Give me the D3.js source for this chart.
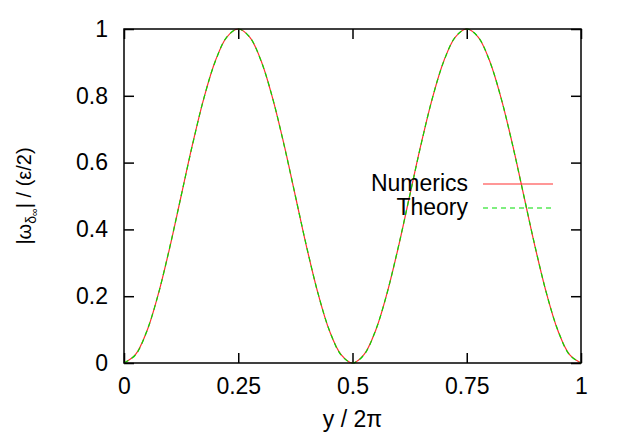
<!DOCTYPE html>
<html>
<head>
<meta charset="utf-8">
<script src="https://cdn.jsdelivr.net/npm/d3@7"></script>
<style>
  body { margin: 0; background: #fff; }
  text { font-family: "Liberation Sans", Arial, sans-serif; }
</style>
</head>
<body>
<div id="chart"></div>
<script>
// Valors llegits del gràfic (y / 2π i |ω| / (ε/2))
const xValues = [0, 0.025, 0.05, 0.075, 0.1, 0.125, 0.15, 0.175, 0.2, 0.225, 0.25,
  0.275, 0.3, 0.325, 0.35, 0.375, 0.4, 0.425, 0.45, 0.475, 0.5,
  0.525, 0.55, 0.575, 0.6, 0.625, 0.65, 0.675, 0.7, 0.725, 0.75,
  0.775, 0.8, 0.825, 0.85, 0.875, 0.9, 0.925, 0.95, 0.975, 1];
const numerics = [0, 0.025, 0.095, 0.206, 0.345, 0.5, 0.655, 0.794, 0.905, 0.976, 1,
  0.976, 0.905, 0.794, 0.655, 0.5, 0.345, 0.206, 0.095, 0.025, 0,
  0.025, 0.095, 0.206, 0.345, 0.5, 0.655, 0.794, 0.905, 0.976, 1,
  0.976, 0.905, 0.794, 0.655, 0.5, 0.345, 0.206, 0.095, 0.025, 0];
const theory = [0, 0.024, 0.096, 0.206, 0.346, 0.5, 0.654, 0.794, 0.904, 0.976, 1,
  0.976, 0.904, 0.794, 0.654, 0.5, 0.346, 0.206, 0.096, 0.024, 0,
  0.024, 0.096, 0.206, 0.346, 0.5, 0.654, 0.794, 0.904, 0.976, 1,
  0.976, 0.904, 0.794, 0.654, 0.5, 0.346, 0.206, 0.096, 0.024, 0];
const xTicks = [0, 0.25, 0.5, 0.75, 1];
const yTicks = [0, 0.2, 0.4, 0.6, 0.8, 1];
const seriesNames = ["Numerics", "Theory"];

const W = 623, H = 436;
const margin = { top: 29, right: 42, bottom: 73, left: 124 };
const width = W - margin.left - margin.right;
const height = H - margin.top - margin.bottom;
const fontSize = 23;

const svg = d3.select("#chart").append("svg")
  .attr("width", W).attr("height", H);
const g = svg.append("g").attr("transform", `translate(${margin.left},${margin.top})`);

const x = d3.scaleLinear().domain([0, 1]).range([0, width]);
const y = d3.scaleLinear().domain([0, 1]).range([height, 0]);

const fmt = d => d3.format("")(d);
const tickLen = 10;

// Eixos (ticks cap a dins, també a dalt i a la dreta)
g.append("g").attr("transform", `translate(0,${height})`)
  .call(d3.axisBottom(x).tickValues(xTicks).tickFormat(fmt).tickSizeInner(-tickLen).tickSizeOuter(0).tickPadding(15))
  .call(a => a.select(".domain").remove());
g.append("g")
  .call(d3.axisTop(x).tickValues(xTicks).tickFormat("").tickSizeInner(-tickLen).tickSizeOuter(0))
  .call(a => a.select(".domain").remove());
g.append("g")
  .call(d3.axisLeft(y).tickValues(yTicks).tickFormat(fmt).tickSizeInner(-tickLen).tickSizeOuter(0).tickPadding(16))
  .call(a => a.select(".domain").remove());
g.append("g").attr("transform", `translate(${width},0)`)
  .call(d3.axisRight(y).tickValues(yTicks).tickFormat("").tickSizeInner(-tickLen).tickSizeOuter(0))
  .call(a => a.select(".domain").remove());

g.selectAll(".tick line").attr("stroke", "#000").attr("stroke-width", 1.5);
g.selectAll(".tick text").attr("font-size", fontSize).attr("fill", "#000")
  .attr("font-family", "Liberation Sans, Arial, sans-serif");

// Corbes
const pts = vals => xValues.map((v, i) => [v, vals[i]]);
const line = d3.line().x(d => x(d[0])).y(d => y(d[1])).curve(d3.curveCatmullRom);

g.append("path").datum(pts(numerics))
  .attr("fill", "none").attr("stroke", "#ff3030").attr("stroke-width", 1.2)
  .attr("d", line);
g.append("path").datum(pts(theory))
  .attr("fill", "none").attr("stroke", "#00dd00").attr("stroke-width", 1.2)
  .attr("stroke-dasharray", "5,4")
  .attr("d", line);

// Marc
g.append("rect").attr("width", width).attr("height", height)
  .attr("fill", "none").attr("stroke", "#000").attr("stroke-width", 1.5);

// Llegenda
const legend = svg.append("g");
const legendColors = ["#ff3030", "#00dd00"];
const legendDash = [null, "5,4"];
seriesNames.forEach((name, i) => {
  const yy = 184 + i * 24;
  legend.append("text").attr("x", 468).attr("y", yy + 7)
    .attr("text-anchor", "end").attr("font-size", fontSize).text(name);
  legend.append("line").attr("x1", 483).attr("x2", 553).attr("y1", yy).attr("y2", yy)
    .attr("stroke", legendColors[i]).attr("stroke-width", 1.2)
    .attr("stroke-dasharray", legendDash[i]);
});

// Etiquetes dels eixos
svg.append("text").attr("x", margin.left + width / 2).attr("y", 427)
  .attr("text-anchor", "middle").attr("font-size", fontSize).text("y / 2π");

const yl = svg.append("text")
  .attr("transform", `translate(31,${margin.top + height / 2}) rotate(-90)`)
  .attr("text-anchor", "middle").attr("font-size", 20);
yl.append("tspan").text("|ω");
yl.append("tspan").attr("font-size", 14).attr("dy", 5).text("δ");
yl.append("tspan").attr("font-size", 11).attr("dy", 2).text("∞");
yl.append("tspan").attr("dy", -7).text("| / (ε/2)");
</script>
</body>
</html>
